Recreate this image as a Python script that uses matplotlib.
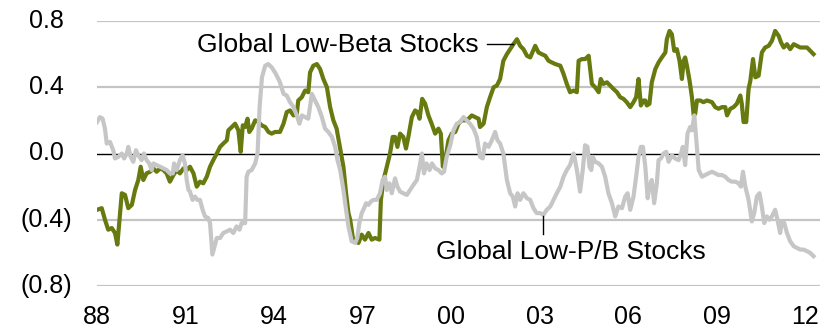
import matplotlib
matplotlib.use("Agg")
import matplotlib.pyplot as plt

plt.rcParams["font.family"] = ["Liberation Sans", "DejaVu Sans"]

# Rolling correlation series (decimal year, value)
beta_years = [
    1988.00, 1988.16, 1988.27, 1988.38, 1988.50, 1988.61, 1988.69, 1988.84, 1988.95, 1989.06,
    1989.18, 1989.29, 1989.40, 1989.48, 1989.57, 1989.68, 1989.80, 1989.91, 1990.02, 1990.14,
    1990.25, 1990.36, 1990.47, 1990.59, 1990.70, 1990.81, 1990.93, 1991.04, 1991.15, 1991.27,
    1991.38, 1991.49, 1991.60, 1991.72, 1991.83, 1991.94, 1992.06, 1992.17, 1992.28, 1992.40,
    1992.45, 1992.57, 1992.68, 1992.79, 1992.87, 1992.94, 1993.02, 1993.10, 1993.16, 1993.24,
    1993.36, 1993.47, 1993.58, 1993.70, 1993.81, 1993.92, 1994.03, 1994.20, 1994.32, 1994.43,
    1994.54, 1994.66, 1994.77, 1994.82, 1994.94, 1995.05, 1995.16, 1995.22, 1995.33, 1995.45,
    1995.56, 1995.67, 1995.79, 1995.90, 1996.01, 1996.12, 1996.24, 1996.35, 1996.44, 1996.52,
    1996.58, 1996.67, 1996.75, 1996.86, 1996.97, 1997.08, 1997.20, 1997.31, 1997.42, 1997.57,
    1997.62, 1997.71, 1997.82, 1997.93, 1998.02, 1998.10, 1998.18, 1998.27, 1998.38, 1998.47,
    1998.55, 1998.67, 1998.78, 1998.86, 1998.93, 1999.02, 1999.12, 1999.23, 1999.34, 1999.46,
    1999.57, 1999.65, 1999.72, 1999.80, 1999.91, 2000.02, 2000.14, 2000.25, 2000.36, 2000.47,
    2000.59, 2000.70, 2000.81, 2000.93, 2000.98, 2001.10, 2001.21, 2001.32, 2001.44, 2001.55,
    2001.66, 2001.77, 2001.89, 2002.00, 2002.11, 2002.23, 2002.34, 2002.45, 2002.57, 2002.68,
    2002.85, 2002.96, 2003.07, 2003.19, 2003.30, 2003.41, 2003.53, 2003.70, 2003.81, 2003.92,
    2004.03, 2004.15, 2004.26, 2004.32, 2004.43, 2004.54, 2004.66, 2004.77, 2004.88, 2005.00,
    2005.07, 2005.16, 2005.28, 2005.39, 2005.50, 2005.62, 2005.73, 2005.84, 2005.95, 2006.07,
    2006.18, 2006.27, 2006.35, 2006.43, 2006.52, 2006.58, 2006.63, 2006.72, 2006.80, 2006.92,
    2007.03, 2007.14, 2007.26, 2007.31, 2007.40, 2007.48, 2007.56, 2007.65, 2007.74, 2007.82,
    2007.88, 2007.93, 2007.99, 2008.08, 2008.16, 2008.22, 2008.27, 2008.33, 2008.44, 2008.55,
    2008.67, 2008.84, 2008.95, 2009.06, 2009.18, 2009.29, 2009.35, 2009.46, 2009.57, 2009.68,
    2009.80, 2009.85, 2009.91, 2010.00, 2010.08, 2010.14, 2010.23, 2010.31, 2010.42, 2010.53,
    2010.64, 2010.76, 2010.87, 2010.98, 2011.10, 2011.18, 2011.27, 2011.38, 2011.49, 2011.61,
    2011.72, 2011.83, 2011.94, 2012.06, 2012.17, 2012.28,
]
beta_values = [
    -0.34, -0.33, -0.40, -0.46, -0.45, -0.48, -0.55, -0.24, -0.25, -0.33,
    -0.31, -0.22, -0.16, -0.08, -0.16, -0.12, -0.11, -0.09, -0.11, -0.09,
    -0.10, -0.12, -0.17, -0.13, -0.10, -0.12, -0.09, -0.10, -0.08, -0.12,
    -0.20, -0.17, -0.18, -0.14, -0.08, -0.04, 0.00, 0.04, 0.06, 0.08,
    0.14, 0.16, 0.18, 0.14, 0.01, 0.17, 0.16, 0.21, 0.13, 0.15,
    0.20, 0.19, 0.17, 0.16, 0.13, 0.12, 0.13, 0.13, 0.18, 0.25,
    0.26, 0.23, 0.24, 0.32, 0.34, 0.38, 0.37, 0.49, 0.53, 0.54,
    0.51, 0.45, 0.40, 0.28, 0.20, 0.15, 0.03, -0.08, -0.24, -0.36,
    -0.40, -0.51, -0.53, -0.54, -0.49, -0.52, -0.48, -0.52, -0.51, -0.52,
    -0.28, -0.16, -0.08, 0.00, 0.10, 0.10, 0.04, 0.12, 0.10, 0.03,
    0.10, 0.22, 0.26, 0.25, 0.21, 0.33, 0.30, 0.23, 0.18, 0.12,
    0.15, 0.12, -0.08, -0.04, 0.08, 0.12, 0.13, 0.18, 0.20, 0.20,
    0.21, 0.23, 0.22, 0.21, 0.16, 0.18, 0.28, 0.34, 0.40, 0.41,
    0.45, 0.56, 0.60, 0.63, 0.66, 0.69, 0.65, 0.63, 0.59, 0.58,
    0.65, 0.61, 0.60, 0.59, 0.56, 0.55, 0.54, 0.53, 0.48, 0.42,
    0.37, 0.38, 0.37, 0.56, 0.57, 0.57, 0.59, 0.42, 0.40, 0.37,
    0.45, 0.42, 0.43, 0.41, 0.39, 0.37, 0.34, 0.33, 0.31, 0.28,
    0.31, 0.34, 0.45, 0.29, 0.32, 0.32, 0.29, 0.30, 0.43, 0.51,
    0.55, 0.58, 0.61, 0.69, 0.74, 0.72, 0.62, 0.63, 0.56, 0.45,
    0.56, 0.58, 0.53, 0.44, 0.34, 0.23, 0.24, 0.32, 0.32, 0.31,
    0.32, 0.31, 0.28, 0.27, 0.28, 0.28, 0.23, 0.27, 0.28, 0.30,
    0.35, 0.30, 0.19, 0.19, 0.39, 0.44, 0.57, 0.46, 0.47, 0.61,
    0.64, 0.65, 0.68, 0.74, 0.71, 0.67, 0.64, 0.66, 0.63, 0.66,
    0.65, 0.64, 0.64, 0.64, 0.62, 0.60,
]

pb_years = [
    1988.00, 1988.10, 1988.19, 1988.27, 1988.33, 1988.44, 1988.55, 1988.61, 1988.72, 1988.84,
    1988.92, 1989.01, 1989.06, 1989.14, 1989.23, 1989.32, 1989.40, 1989.51, 1989.59, 1989.68,
    1989.77, 1989.85, 1989.91, 1990.02, 1990.14, 1990.25, 1990.36, 1990.47, 1990.57, 1990.61,
    1990.70, 1990.81, 1990.90, 1990.98, 1991.04, 1991.10, 1991.15, 1991.24, 1991.32, 1991.40,
    1991.49, 1991.58, 1991.66, 1991.77, 1991.83, 1991.91, 1992.00, 1992.06, 1992.17, 1992.28,
    1992.40, 1992.51, 1992.62, 1992.73, 1992.83, 1992.90, 1993.02, 1993.07, 1993.13, 1993.24,
    1993.36, 1993.44, 1993.51, 1993.59, 1993.70, 1993.80, 1993.92, 1994.03, 1994.09, 1994.20,
    1994.32, 1994.43, 1994.54, 1994.66, 1994.77, 1994.86, 1994.94, 1995.05, 1995.16, 1995.28,
    1995.39, 1995.50, 1995.62, 1995.73, 1995.84, 1995.96, 1996.07, 1996.15, 1996.24, 1996.35,
    1996.44, 1996.52, 1996.63, 1996.75, 1996.82, 1996.89, 1996.97, 1997.05, 1997.12, 1997.20,
    1997.28, 1997.37, 1997.48, 1997.59, 1997.68, 1997.76, 1997.82, 1997.91, 1997.99, 1998.10,
    1998.18, 1998.27, 1998.38, 1998.50, 1998.61, 1998.72, 1998.84, 1998.93, 1999.01, 1999.08,
    1999.17, 1999.27, 1999.35, 1999.46, 1999.57, 1999.68, 1999.76, 1999.85, 1999.97, 2000.08,
    2000.19, 2000.31, 2000.42, 2000.53, 2000.64, 2000.76, 2000.87, 2000.98, 2001.07, 2001.15,
    2001.27, 2001.38, 2001.49, 2001.57, 2001.66, 2001.77, 2001.89, 2002.00, 2002.09, 2002.17,
    2002.25, 2002.34, 2002.45, 2002.57, 2002.68, 2002.79, 2002.90, 2003.02, 2003.13, 2003.24,
    2003.36, 2003.47, 2003.58, 2003.70, 2003.81, 2003.92, 2004.03, 2004.15, 2004.20, 2004.28,
    2004.37, 2004.46, 2004.54, 2004.62, 2004.69, 2004.75, 2004.80, 2004.88, 2005.00, 2005.11,
    2005.22, 2005.33, 2005.45, 2005.56, 2005.67, 2005.79, 2005.90, 2005.98, 2006.07, 2006.18,
    2006.27, 2006.35, 2006.43, 2006.50, 2006.58, 2006.66, 2006.72, 2006.80, 2006.88, 2006.97,
    2007.03, 2007.11, 2007.20, 2007.29, 2007.37, 2007.48, 2007.59, 2007.71, 2007.79, 2007.85,
    2007.93, 2008.01, 2008.10, 2008.16, 2008.24, 2008.31, 2008.39, 2008.50, 2008.61, 2008.72,
    2008.84, 2008.95, 2009.06, 2009.18, 2009.29, 2009.40, 2009.51, 2009.63, 2009.74, 2009.82,
    2009.89, 2009.97, 2010.08, 2010.19, 2010.27, 2010.36, 2010.45, 2010.53, 2010.61, 2010.70,
    2010.79, 2010.87, 2010.98, 2011.06, 2011.15, 2011.21, 2011.29, 2011.38, 2011.49, 2011.61,
    2011.72, 2011.83, 2011.94, 2012.06, 2012.17, 2012.28,
]
pb_values = [
    0.19, 0.22, 0.21, 0.15, 0.06, 0.07, 0.02, -0.03, -0.02, 0.00,
    -0.03, 0.00, 0.04, -0.02, -0.05, 0.02, -0.01, -0.04, 0.00, -0.04,
    -0.06, -0.10, -0.06, -0.07, -0.08, -0.09, -0.10, -0.12, -0.12, -0.06,
    -0.10, -0.04, -0.01, -0.06, -0.16, -0.22, -0.23, -0.28, -0.26, -0.28,
    -0.28, -0.34, -0.38, -0.39, -0.42, -0.61, -0.55, -0.51, -0.51, -0.48,
    -0.47, -0.46, -0.48, -0.44, -0.46, -0.42, -0.42, -0.14, -0.11, -0.10,
    -0.06, 0.00, 0.28, 0.46, 0.53, 0.54, 0.52, 0.49, 0.47, 0.43,
    0.36, 0.35, 0.31, 0.28, 0.23, 0.18, 0.23, 0.22, 0.21, 0.36,
    0.32, 0.28, 0.22, 0.15, 0.13, 0.10, 0.04, -0.04, -0.10, -0.22,
    -0.34, -0.44, -0.53, -0.54, -0.51, -0.42, -0.36, -0.33, -0.30, -0.31,
    -0.29, -0.28, -0.28, -0.24, -0.16, -0.14, -0.22, -0.18, -0.24, -0.15,
    -0.20, -0.23, -0.24, -0.25, -0.22, -0.19, -0.16, -0.08, 0.00, -0.12,
    -0.06, -0.10, -0.06, -0.09, -0.10, -0.12, -0.11, -0.02, 0.05, 0.14,
    0.18, 0.19, 0.22, 0.20, 0.18, 0.15, 0.10, -0.02, -0.03, 0.06,
    0.04, 0.08, 0.13, 0.08, 0.06, 0.00, -0.16, -0.24, -0.26, -0.32,
    -0.24, -0.28, -0.24, -0.27, -0.28, -0.33, -0.36, -0.36, -0.37, -0.34,
    -0.32, -0.28, -0.24, -0.20, -0.14, -0.10, -0.07, 0.00, -0.04, -0.12,
    -0.23, -0.10, 0.05, 0.04, -0.08, -0.10, -0.02, -0.05, -0.06, -0.08,
    -0.14, -0.24, -0.30, -0.38, -0.32, -0.33, -0.26, -0.24, -0.34, -0.26,
    -0.14, -0.02, 0.04, 0.04, -0.08, -0.27, -0.20, -0.16, -0.30, -0.18,
    -0.04, -0.03, 0.00, 0.01, -0.05, -0.01, -0.03, -0.04, 0.00, 0.04,
    -0.07, 0.12, 0.16, 0.14, 0.23, 0.08, -0.10, -0.14, -0.13, -0.12,
    -0.11, -0.12, -0.13, -0.13, -0.14, -0.16, -0.17, -0.17, -0.18, -0.20,
    -0.11, -0.20, -0.28, -0.41, -0.36, -0.26, -0.24, -0.32, -0.42, -0.38,
    -0.40, -0.38, -0.34, -0.40, -0.48, -0.41, -0.42, -0.48, -0.53, -0.56,
    -0.57, -0.58, -0.58, -0.59, -0.60, -0.62,
]

tick_years = [1988, 1991, 1994, 1997, 2000, 2003, 2006, 2009, 2012]
tick_labels = ["88", "91", "94", "97", "00", "03", "06", "09", "12"]
y_ticks = [-0.8, -0.4, 0.0, 0.4, 0.8]
y_labels = ["(0.8)", "(0.4)", "0.0", "0.4", "0.8"]

GREEN = "#677A10"
GREY = "#C6C6C6"

fig = plt.figure(figsize=(8.28, 3.30), dpi=100)
ax = fig.add_axes([97 / 828, 44 / 330, 723 / 828, 265 / 330])

ax.set_xlim(1988, 2012.5)
ax.set_ylim(-0.8, 0.8)

for yv in y_ticks:
    if yv != 0.0:
        ax.axhline(yv, color="#C4C4C4", lw=1.6, zorder=1)
ax.axhline(0.0, color="black", lw=1.0, zorder=2)

ax.plot(beta_years, beta_values, color=GREEN, lw=3.0, solid_joinstyle="round", zorder=3)
ax.plot(pb_years, pb_values, color=GREY, lw=3.0, solid_joinstyle="round", zorder=4)

for s in ax.spines.values():
    s.set_visible(False)
ax.set_xticks(tick_years)
ax.set_xticklabels(tick_labels)
ax.set_yticks(y_ticks)
ax.set_yticklabels([])
ax.tick_params(axis="both", length=0, labelsize=18, colors="black")
ax.tick_params(axis="x", pad=14)

# Value labels: digits line up, negatives carry a closing parenthesis
for yv, lab in zip(y_ticks, y_labels):
    offset = -25 if lab.startswith("(") else -33
    ax.annotate(lab, xy=(0, yv), xycoords=("axes fraction", "data"),
                xytext=(offset, 0), textcoords="offset pixels",
                ha="right", va="center", fontsize=18)

# Series labels with short leader lines
ax.text(2000.92, 0.612, "Global Low-Beta Stocks", fontsize=19, ha="right", va="baseline", zorder=5)
ax.plot([2001.22, 2002.10], [0.66, 0.66], color="black", lw=1.0, zorder=5)

ax.text(2004.07, -0.636, "Global Low-P/B Stocks", fontsize=19, ha="center", va="baseline", zorder=5)
ax.plot([2003.12, 2003.12], [-0.376, -0.485], color="black", lw=1.0, zorder=5)

fig.savefig("out.png", dpi=100)
